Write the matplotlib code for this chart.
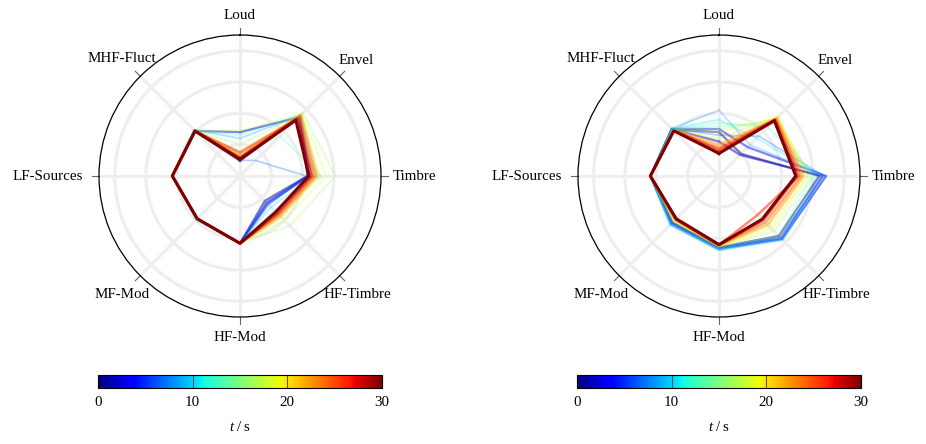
import numpy as np
import matplotlib.pyplot as plt
from matplotlib import cm, colors

plt.rcParams['font.family'] = ['Liberation Serif', 'DejaVu Serif']
plt.rcParams['mathtext.fontset'] = 'custom'
plt.rcParams['mathtext.rm'] = 'Liberation Serif'
plt.rcParams['mathtext.it'] = 'Liberation Serif:italic'

# feature axes, clockwise from the top
axis_names = ['Loud', 'Envel', 'Timbre', 'HF-Timbre', 'HF-Mod', 'MF-Mod', 'LF-Sources', 'MHF-Fluct']

# time of each profile (s)
times = [0, 2, 4, 6, 8, 10, 12, 14, 16, 18, 20, 22, 24, 26, 28, 30]

# left panel profiles
left_loud = [0.48, 1.40, 0.55, 0.50, 1.20, 0.60, 1.30, 0.70, 1.00, 1.45, 0.80, 0.65, 0.60, 0.75, 0.58, 0.53]
left_envel = [2.70, 2.65, 2.72, 0.70, 2.75, 2.70, 2.78, 1.80, 2.85, 2.82, 2.78, 2.75, 2.70, 2.62, 2.58, 2.52]
left_timbre = [2.15, 2.17, 2.20, 2.12, 2.25, 2.35, 2.50, 2.60, 3.05, 2.75, 2.55, 2.45, 2.40, 2.32, 2.28, 2.20]
left_hftimbre = [1.12, 1.20, 1.25, 1.30, 1.22, 1.40, 1.55, 1.70, 2.25, 2.00, 1.88, 1.82, 1.76, 1.72, 1.68, 1.62]
left_hfmod = [2.15, 2.15, 2.15, 2.15, 2.15, 2.15, 2.15, 2.15, 2.15, 2.15, 2.15, 2.15, 2.15, 2.15, 2.15, 2.15]
left_mfmod = [1.93, 1.93, 1.94, 1.95, 1.96, 1.98, 1.97, 1.95, 1.94, 1.94, 1.93, 1.93, 1.93, 1.93, 1.93, 1.93]
left_lf = [2.16, 2.16, 2.16, 2.16, 2.16, 2.16, 2.16, 2.16, 2.16, 2.16, 2.16, 2.16, 2.16, 2.16, 2.16, 2.16]
left_mhf = [2.03, 2.04, 2.05, 2.06, 2.07, 2.08, 2.07, 2.05, 2.04, 2.04, 2.03, 2.03, 2.03, 2.03, 2.03, 2.03]

# right panel profiles
right_loud = [1.40, 1.10, 1.50, 1.30, 2.10, 1.80, 1.70, 1.60, 1.50, 1.40, 1.20, 1.00, 0.90, 0.85, 0.78, 0.72]
right_envel = [1.00, 0.95, 1.30, 1.80, 1.40, 1.70, 2.20, 2.40, 2.55, 2.65, 2.70, 2.62, 2.58, 2.55, 2.52, 2.50]
right_timbre = [3.20, 3.30, 3.42, 3.35, 3.40, 3.25, 3.10, 3.00, 2.95, 2.85, 2.80, 2.70, 2.62, 2.55, 2.50, 2.45]
right_hftimbre = [2.70, 2.80, 2.85, 2.75, 2.85, 2.90, 2.80, 2.70, 2.50, 2.40, 2.30, 2.20, 2.10, 1.75, 2.00, 1.95]
right_hfmod = [2.28, 2.30, 2.32, 2.34, 2.37, 2.37, 2.33, 2.30, 2.27, 2.25, 2.24, 2.22, 2.21, 2.20, 2.20, 2.19]
right_mfmod = [2.10, 2.12, 2.15, 2.18, 2.21, 2.21, 2.15, 2.10, 2.05, 2.02, 2.00, 1.98, 1.96, 1.95, 1.94, 1.93]
right_lf = [2.19, 2.19, 2.19, 2.19, 2.19, 2.19, 2.19, 2.19, 2.19, 2.19, 2.19, 2.19, 2.19, 2.19, 2.19, 2.19]
right_mhf = [2.10, 2.12, 2.13, 2.14, 2.14, 2.13, 2.11, 2.10, 2.09, 2.08, 2.07, 2.06, 2.05, 2.05, 2.04, 2.04]

left_data = [left_loud, left_envel, left_timbre, left_hftimbre, left_hfmod, left_mfmod, left_lf, left_mhf]
right_data = [right_loud, right_envel, right_timbre, right_hftimbre, right_hfmod, right_mfmod, right_lf, right_mhf]

RMAX = 4.5
cmap = plt.get_cmap('jet')
norm = colors.Normalize(vmin=0, vmax=30)

fig = plt.figure(figsize=(9.26, 4.44), dpi=100)

theta = np.deg2rad(np.arange(len(axis_names)) * 45.0)

# label offsets in pixels from the outer circle
label_pos = [
    ((0, 20), 'center', 'center'),
    ((16, 16), 'center', 'center'),
    ((12, 0), 'left', 'center'),
    ((18, -19), 'center', 'center'),
    ((0, -20), 'center', 'center'),
    ((-18, -19), 'center', 'center'),
    ((-16, 0), 'right', 'center'),
    ((-18, 18), 'center', 'center'),
]


def radar(ax_rect, cax_rect, data):
    ax = fig.add_axes(ax_rect, projection='polar')
    ax.set_theta_zero_location('N')
    ax.set_theta_direction(-1)
    ax.set_ylim(0, RMAX)
    ax.set_yticks([1, 2, 3, 4])
    ax.set_yticklabels([])
    ax.set_xticks(theta)
    ax.set_xticklabels([])
    ax.tick_params(length=0)
    ax.grid(True, color='#eeeeee', lw=2.2)
    ax.spines['polar'].set_color('black')
    ax.spines['polar'].set_linewidth(0.9)

    vals = np.array(data)
    th = np.append(theta, theta[0])
    for i, t in enumerate(times):
        r = np.append(vals[:, i], vals[0, i])
        last = i == len(times) - 1
        if last:
            lw, a = 2.2, 1.0
        elif t >= 22:
            lw, a = 1.8, 0.55
        elif t <= 4:
            lw, a = 1.6, 0.5
        else:
            lw, a = 1.3, 0.28
        ax.plot(th, r, color=cmap(norm(t)), lw=lw, alpha=a, zorder=3 + i)

    for k, name in enumerate(axis_names):
        ax.plot([theta[k], theta[k]], [RMAX, RMAX + 0.22], color='#666666',
                lw=0.8, clip_on=False)
        off, ha, va = label_pos[k]
        ax.annotate(name, xy=(theta[k], RMAX), xytext=off, textcoords='offset pixels',
                    ha=ha, va=va, fontsize=10.8, annotation_clip=False)

    cax = fig.add_axes(cax_rect)
    sm = cm.ScalarMappable(norm=norm, cmap=cmap)
    cb = fig.colorbar(sm, cax=cax, orientation='horizontal')
    cb.set_ticks([0, 10, 20, 30])
    cb.outline.set_linewidth(0.8)
    cax.tick_params(direction='in', length=9.5, width=0.8, color='#555555',
                    labelsize=10.8, pad=6)
    cb.set_label(r'$t\;/\;\mathrm{s}$', fontsize=10.8, labelpad=8)
    return ax


radar([99 / 926, 127 / 444, 282 / 926, 282 / 444],
      [98 / 926, 56 / 444, 284 / 926, 13 / 444], left_data)
radar([578 / 926, 127 / 444, 282 / 926, 282 / 444],
      [577 / 926, 56 / 444, 284 / 926, 13 / 444], right_data)

fig.savefig('out.png', dpi=100)
